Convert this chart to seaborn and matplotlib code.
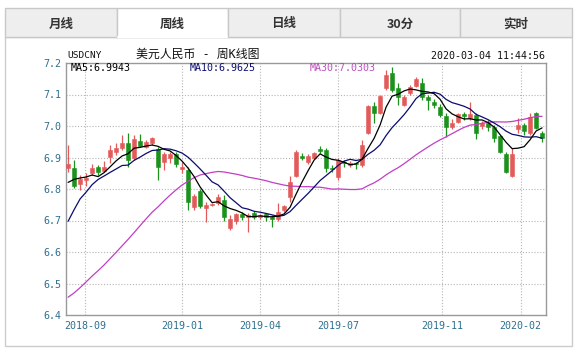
import matplotlib
matplotlib.use("Agg")
import matplotlib.pyplot as plt
from matplotlib.patches import Rectangle
from matplotlib.lines import Line2D
import numpy as np
import pandas as pd
import seaborn as sns

W, H = 583, 353

tabs = ["月线", "周线", "日线", "30分", "实时"]
active_tab = "周线"
symbol = "USDCNY"
title = "美元人民币 - 周K线图"
stamp = "2020-03-04 11:44:56"
ma_labels = ["MA5:6.9943", "MA10:6.9625", "MA30:7.0303"]

# weekly closes before the first visible candle (only feed the moving averages)
warmup_close = [6.40, 6.33, 6.29, 6.31, 6.34, 6.33, 6.32, 6.33, 6.32, 6.28,
                6.31, 6.28, 6.30, 6.33, 6.36, 6.33, 6.37, 6.38, 6.41, 6.40,
                6.44, 6.49, 6.62, 6.63, 6.69, 6.76, 6.81, 6.82, 6.835]

# visible weekly candles, 2018-08-13 .. 2020-03-02
open_ = [6.868, 6.866, 6.816, 6.828, 6.851, 6.869, 6.858, 6.903, 6.918, 6.929,
         6.945, 6.898, 6.952, 6.934, 6.945, 6.926, 6.887, 6.900, 6.910, 6.863,
         6.860, 6.742, 6.794, 6.739, 6.748, 6.755, 6.765, 6.675, 6.700, 6.720,
         6.710, 6.723, 6.710, 6.720, 6.712, 6.705, 6.733, 6.776, 6.841, 6.905,
         6.887, 6.898, 6.926, 6.924, 6.868, 6.839, 6.887, 6.876, 6.882, 6.876,
         6.979, 7.063, 7.040, 7.120, 7.167, 7.120, 7.067, 7.104, 7.127, 7.135,
         7.093, 7.077, 7.060, 7.032, 6.996, 7.014, 7.038, 7.024, 7.035, 7.000,
         7.011, 6.996, 6.968, 6.911, 6.841, 6.990, 7.003, 6.977, 7.040, 6.977]
high = [6.940, 6.892, 6.845, 6.852, 6.880, 6.875, 6.890, 6.940, 6.947, 6.971,
        6.979, 6.970, 6.974, 6.955, 6.965, 6.934, 6.918, 6.918, 6.917, 6.887,
        6.871, 6.785, 6.800, 6.760, 6.755, 6.785, 6.780, 6.718, 6.725, 6.728,
        6.724, 6.730, 6.720, 6.724, 6.716, 6.755, 6.750, 6.840, 6.923, 6.915,
        6.910, 6.918, 6.936, 6.931, 6.875, 6.898, 6.893, 6.890, 6.885, 6.956,
        7.068, 7.077, 7.100, 7.178, 7.188, 7.135, 7.100, 7.130, 7.155, 7.151,
        7.098, 7.087, 7.070, 7.040, 7.022, 7.040, 7.045, 7.077, 7.040, 7.015,
        7.018, 7.003, 6.970, 6.918, 6.929, 7.024, 7.010, 7.040, 7.045, 6.985]
low = [6.855, 6.803, 6.797, 6.810, 6.845, 6.846, 6.855, 6.882, 6.908, 6.924,
       6.870, 6.893, 6.935, 6.930, 6.940, 6.830, 6.860, 6.882, 6.870, 6.850,
       6.733, 6.733, 6.740, 6.696, 6.745, 6.750, 6.700, 6.670, 6.690, 6.703,
       6.665, 6.705, 6.705, 6.700, 6.678, 6.700, 6.728, 6.760, 6.838, 6.893,
       6.878, 6.894, 6.913, 6.855, 6.853, 6.829, 6.870, 6.870, 6.862, 6.870,
       6.976, 7.008, 7.038, 7.115, 7.109, 7.067, 7.063, 7.100, 7.124, 7.083,
       7.051, 7.057, 7.030, 6.966, 6.990, 7.010, 7.020, 7.020, 6.960, 6.990,
       6.985, 6.950, 6.915, 6.850, 6.837, 6.977, 6.970, 6.970, 6.990, 6.950]
close = [6.880, 6.808, 6.832, 6.835, 6.867, 6.855, 6.871, 6.924, 6.929, 6.945,
         6.892, 6.958, 6.937, 6.950, 6.961, 6.871, 6.911, 6.911, 6.878, 6.871,
         6.760, 6.778, 6.746, 6.749, 6.751, 6.774, 6.712, 6.704, 6.720, 6.710,
         6.717, 6.710, 6.716, 6.710, 6.706, 6.727, 6.745, 6.823, 6.918, 6.900,
         6.905, 6.913, 6.922, 6.866, 6.863, 6.892, 6.882, 6.882, 6.879, 6.940,
         7.063, 7.040, 7.095, 7.162, 7.114, 7.093, 7.093, 7.125, 7.148, 7.091,
         7.083, 7.067, 7.035, 6.996, 7.011, 7.038, 7.032, 7.038, 6.977, 7.011,
         6.996, 6.961, 6.918, 6.855, 6.911, 7.003, 6.985, 7.028, 6.993, 6.961]

yticks = [6.4, 6.5, 6.6, 6.7, 6.8, 6.9, 7.0, 7.1, 7.2]
xtick_pos = [2.8, 19, 32, 45, 62.3, 75.4]
xtick_labels = ["2018-09", "2019-01", "2019-04", "2019-07", "2019-11", "2020-02"]

df = pd.DataFrame({"open": open_, "high": high, "low": low, "close": close})
df["t"] = np.arange(len(df))
all_close = pd.Series(warmup_close + close)
n0 = len(warmup_close)
for w in (5, 10, 30):
    df[f"MA{w}"] = all_close.rolling(w).mean().iloc[n0:].to_numpy()
df["up"] = df["close"] >= df["open"]

UP, DOWN = "#e25a5a", "#1b921b"
MA_COLORS = {"MA5": "#000000", "MA10": "#0c0c6e", "MA30": "#c23ec2"}
LABEL_COLORS = ["#000000", "#0c0c6e", "#b850b8"]
TICK_COLOR = "#2e6f8e"
MONO = ["DejaVu Sans Mono", "Noto Sans CJK SC"]
CJK = ["Noto Sans CJK SC", "DejaVu Sans"]

sns.set_style("white")
plt.rcParams["font.family"] = MONO

fig = plt.figure(figsize=(W / 100, H / 100), dpi=100)
fig.patch.set_facecolor("white")


def fx(x):
    return x / W


def fy(y):
    return 1 - y / H


def box(x0, y0, x1, y1, **kw):
    fig.add_artist(Rectangle((fx(x0), fy(y1)), (x1 - x0) / W, (y1 - y0) / H,
                             transform=fig.transFigure, **kw))


# tab bar + panel
edges = [5, 117, 228, 340, 460, 572]
box(5, 37, 572, 346, facecolor="none", edgecolor="#cccccc", lw=1)
for i, name in enumerate(tabs):
    active = name == active_tab
    box(edges[i], 8, edges[i + 1], 37,
        facecolor="white" if active else "#eeeeee", edgecolor="#c8c8c8", lw=1)
    fig.text(fx((edges[i] + edges[i + 1]) / 2), fy(24), name, family=CJK,
             fontsize=9, fontweight="bold", color="#333333", ha="center", va="center")
ai = tabs.index(active_tab)
fig.add_artist(Line2D([fx(edges[ai] + 0.5), fx(edges[ai + 1] - 0.5)], [fy(37), fy(37)],
                      transform=fig.transFigure, color="white", lw=1.5))

# header texts
fig.text(fx(67), fy(56), symbol, family=MONO, fontsize=6.8, color="#111111", va="center")
fig.text(fx(136), fy(54), title, family=MONO, fontsize=8.6, color="#111111", va="center")
fig.text(fx(545), fy(56), stamp, family=MONO, fontsize=7.2, color="#111111",
         ha="right", va="center")

ax = fig.add_axes([fx(66), fy(315), (545.7 - 66) / W, (315 - 63) / H])
ax.set_xlim(-0.35, 79.6)
ax.set_ylim(6.4, 7.2)

# grid
for v in yticks[1:-1]:
    ax.axhline(v, color="#b5b5b5", lw=0.8, ls=(0, (1, 1.6)), zorder=0)
for v in xtick_pos:
    ax.axvline(v, color="#b5b5b5", lw=0.8, ls=(0, (1, 1.6)), zorder=0)

# candles
colors = np.where(df["up"], UP, DOWN)
ax.vlines(df["t"], df["low"], df["high"], colors=colors, lw=0.9, zorder=2)
body_lo = np.minimum(df["open"], df["close"])
body_h = np.maximum((df["close"] - df["open"]).abs(), 0.003)
ax.bar(df["t"], body_h, bottom=body_lo, width=0.72, color=colors,
       edgecolor=colors, lw=0.4, zorder=3)

# moving averages
for name in ("MA30", "MA10", "MA5"):
    sns.lineplot(data=df, x="t", y=name, ax=ax, color=MA_COLORS[name],
                 lw=0.9, zorder=4, legend=False)

for (xp, lab, col) in zip([70.5, 190, 310], ma_labels, LABEL_COLORS):
    fig.text(fx(xp), fy(68.3), lab, family=MONO, fontsize=7.2, color=col, va="center")

ax.set_yticks(yticks)
ax.set_yticklabels([f"{v:.1f}" for v in yticks])
ax.set_xticks(xtick_pos)
ax.set_xticklabels(xtick_labels)
ax.set_xlabel("")
ax.set_ylabel("")
ax.tick_params(length=0, labelsize=7.2, colors=TICK_COLOR)
ax.tick_params(axis="y", pad=3)
ax.tick_params(axis="x", pad=4)
for s in ax.spines.values():
    s.set_color("#999999")
    s.set_linewidth(1)

fig.savefig("out.png", dpi=100)
